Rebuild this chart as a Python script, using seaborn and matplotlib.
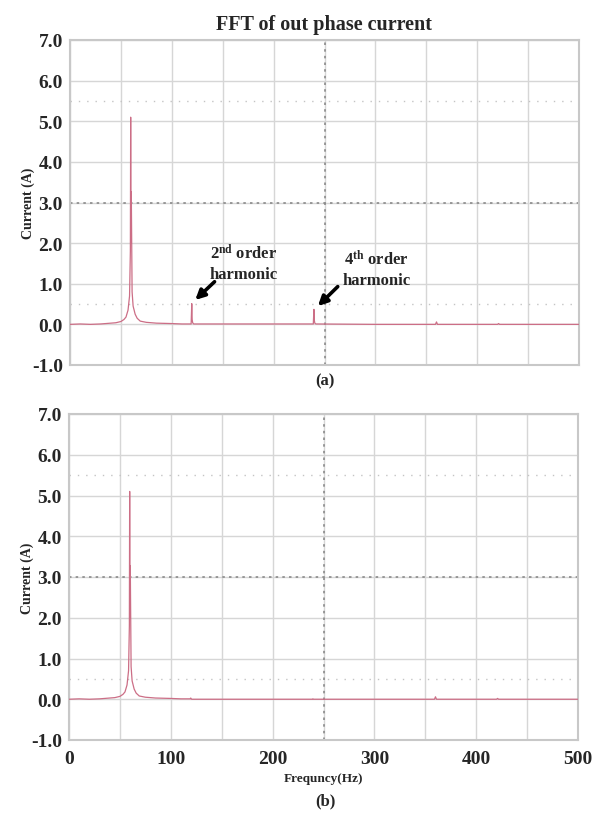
import matplotlib
matplotlib.use("Agg")
import matplotlib.pyplot as plt
import seaborn as sns

# ---- data ----
freq = [0, 10, 20, 30, 40, 45, 50, 53, 55, 57, 58.5, 59.3, 59.6, 59.9, 60.2, 61, 62, 64, 66, 69, 75, 85,
        100, 110, 119, 119.6, 120, 120.5, 121.5, 150, 200, 239, 239.6, 240, 240.5, 241.5, 300,
        359, 360, 361, 400, 420, 421, 422, 450, 500]
current_a = [0.0, 0.01, 0.0, 0.01, 0.03, 0.04, 0.07, 0.12, 0.18, 0.35, 0.7, 1.8, 5.1, 2.0, 3.27, 0.8, 0.45, 0.25,
             0.15, 0.08, 0.05, 0.03, 0.02, 0.01, 0.01, 0.51, 0.12, 0.04, 0.01, 0.01, 0.01, 0.01, 0.37, 0.1,
             0.03, 0.01, 0.0, 0.0, 0.06, 0.0, 0.0, 0.0, 0.02, 0.0, 0.0, 0.0]
current_b = [0.0, 0.01, 0.0, 0.01, 0.03, 0.04, 0.07, 0.12, 0.18, 0.35, 0.7, 1.8, 5.1, 2.0, 3.27, 0.8, 0.45, 0.25,
             0.15, 0.08, 0.05, 0.03, 0.02, 0.01, 0.01, 0.03, 0.01, 0.0, 0.0, 0.0, 0.0, 0.0, 0.01, 0.0,
             0.0, 0.0, 0.0, 0.0, 0.06, 0.0, 0.0, 0.0, 0.02, 0.0, 0.0, 0.0]
x_ticks = [0, 100, 200, 300, 400, 500]
y_ticks = [-1.0, 0.0, 1.0, 2.0, 3.0, 4.0, 5.0, 6.0, 7.0]

sns.set_theme(style="white")
plt.rcParams["font.family"] = ["Liberation Serif", "DejaVu Serif"]
plt.rcParams["font.weight"] = "bold"
plt.rcParams["mathtext.fontset"] = "custom"
plt.rcParams["mathtext.rm"] = "Liberation Serif:bold"
plt.rcParams["mathtext.bf"] = "Liberation Serif:bold"
plt.rcParams["mathtext.it"] = "Liberation Serif:bold"

W, H = 605, 820
fig = plt.figure(figsize=(W / 100, H / 100), dpi=100)

def px_axes(l, t, r, b):
    return fig.add_axes([l / W, 1 - b / H, (r - l) / W, (b - t) / H])

ax_a = px_axes(70, 41, 579, 366)
ax_b = px_axes(69, 415, 578, 741)

line_color = "#cc6e86"
for ax, cur in ((ax_a, current_a), (ax_b, current_b)):
    ax.set_xlim(0, 500)
    ax.set_ylim(-1, 7)
    ax.set_xticks(x_ticks)
    ax.set_xticks(list(range(50, 500, 100)), minor=True)
    ax.set_yticks(y_ticks)
    ax.set_yticklabels([f"{v:.1f}" for v in y_ticks], fontsize=14, fontweight="bold")
    ax.grid(True, which="both", color="#d6d6d6", lw=1.0)
    ax.axhline(5.5, color="#c4c4c4", ls=(0, (1, 5)), lw=1.0, zorder=1)
    ax.axhline(0.5, color="#c4c4c4", ls=(0, (1, 5)), lw=1.0, zorder=1)
    ax.axhline(3.0, color="#8a8a8a", ls=(0, (1.5, 2.5)), lw=1.2, zorder=1)
    ax.axvline(250, color="#8a8a8a", ls=(0, (1.5, 2.5)), lw=1.2, zorder=1)
    sns.lineplot(x=freq, y=cur, ax=ax, color=line_color, lw=0.9, estimator=None, zorder=3)
    for s in ax.spines.values():
        s.set_color("#c8c8c8")
        s.set_linewidth(1.5)
    ax.tick_params(length=0, pad=5)
    ax.set_ylabel("Current (A)", fontsize=10, fontweight="bold", labelpad=-2)

ax_a.set_xticklabels([])
ax_b.set_xticklabels([str(v) for v in x_ticks], fontsize=14, fontweight="bold")
ax_b.tick_params(axis="x", pad=7)
ax_b.set_xlabel("Frequncy(Hz)", fontsize=9.5, fontweight="bold", labelpad=4)

ax_a.set_title("FFT of out phase current", fontsize=14.5, fontweight="bold", pad=8)

# annotations
arrow = dict(arrowstyle="-|>", lw=2.6, color="black", mutation_scale=14, shrinkA=0, shrinkB=0)
ax_a.annotate("", xy=(123, 0.6), xytext=(142, 1.05), arrowprops=arrow)
ax_a.text(171, 1.52, "2$^{nd}$ order\nharmonic", ha="center", va="center",
          fontsize=12, fontweight="bold", linespacing=1.25)
ax_a.annotate("", xy=(243.5, 0.45), xytext=(263, 0.93), arrowprops=arrow)
ax_a.text(301, 1.37, "4$^{th}$ order\nharmonic", ha="center", va="center",
          fontsize=12, fontweight="bold", linespacing=1.25)

fig.text(325 / W, 1 - 381 / H, "(a)", ha="center", va="center", fontsize=12, fontweight="bold")
fig.text(325 / W, 1 - 801 / H, "(b)", ha="center", va="center", fontsize=12, fontweight="bold")

fig.savefig("out.png", dpi=100)
